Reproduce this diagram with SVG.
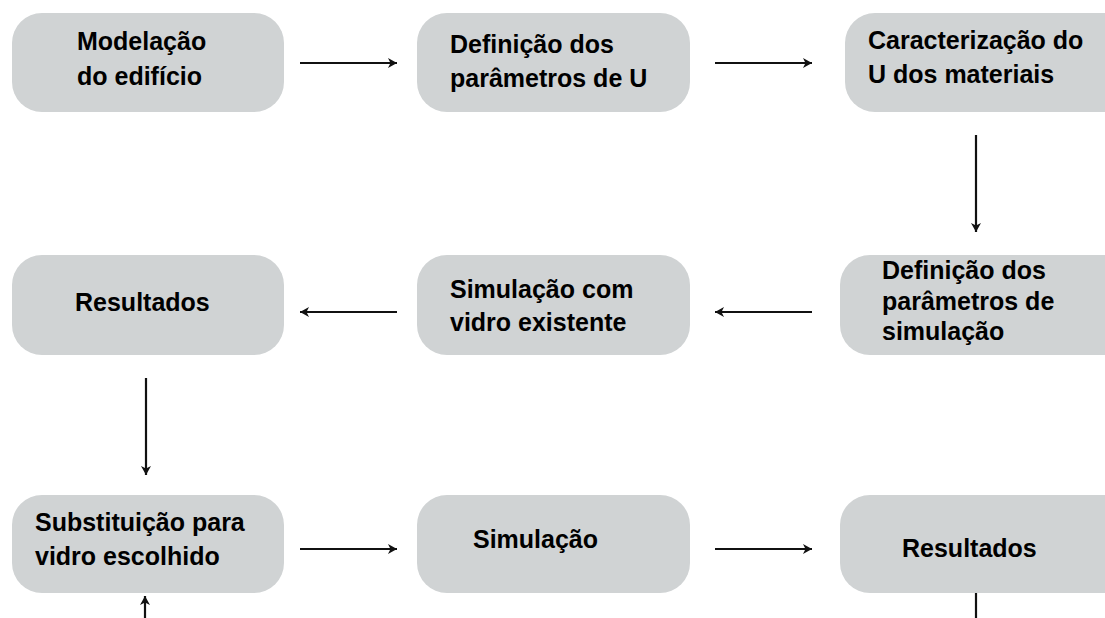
<svg xmlns="http://www.w3.org/2000/svg" width="1105" height="618" viewBox="0 0 1105 618">
<style>
.box{fill:#d0d3d4;}
.t{font-family:"Liberation Sans",Arial,sans-serif;font-weight:bold;font-size:25px;fill:#000;}
.c{stroke:#111;stroke-width:2.2;fill:none;}
</style>
<defs>
<marker id="ah" markerUnits="userSpaceOnUse" markerWidth="14" markerHeight="14" refX="11" refY="7" orient="auto">
<path d="M2,2 L11,7 L2,12 L4.5,7 Z" fill="#111"/>
</marker>
</defs>
<rect width="1105" height="618" fill="#fff"/>
<g id="n1"><rect class="box" x="12" y="13" width="272" height="99" rx="30"/><text class="t" x="77" y="50">Modelação</text><text class="t" x="77" y="85">do edifício</text></g>
<g id="n2"><rect class="box" x="417" y="13" width="273" height="99" rx="30"/><text class="t" x="450" y="53">Definição dos</text><text class="t" x="450" y="87">parâmetros de U</text></g>
<g id="n3"><rect class="box" x="845" y="13" width="300" height="99" rx="30"/><text class="t" x="868" y="49">Caracterização do</text><text class="t" x="868" y="83">U dos materiais</text></g>
<g id="n4"><rect class="box" x="12" y="255" width="272" height="100" rx="30"/><text class="t" x="75" y="311">Resultados</text></g>
<g id="n5"><rect class="box" x="417" y="255" width="273" height="100" rx="30"/><text class="t" x="450" y="298">Simulação com</text><text class="t" x="450" y="331">vidro existente</text></g>
<g id="n6"><rect class="box" x="840" y="255" width="300" height="100" rx="30"/><text class="t" x="882" y="279">Definição dos</text><text class="t" x="882" y="310">parâmetros de</text><text class="t" x="882" y="340">simulação</text></g>
<g id="n7"><rect class="box" x="12" y="495" width="272" height="98" rx="30"/><text class="t" x="35" y="531">Substituição para</text><text class="t" x="35" y="565">vidro escolhido</text></g>
<g id="n8"><rect class="box" x="417" y="495" width="273" height="98" rx="30"/><text class="t" x="473" y="548">Simulação</text></g>
<g id="n9"><rect class="box" x="840" y="495" width="300" height="98" rx="30"/><text class="t" x="902" y="557">Resultados</text></g>
<g id="connectors">
<line class="c" x1="300" y1="63" x2="397" y2="63" marker-end="url(#ah)"/>
<line class="c" x1="715" y1="63" x2="812" y2="63" marker-end="url(#ah)"/>
<line class="c" x1="976" y1="135" x2="976" y2="232" marker-end="url(#ah)"/>
<line class="c" x1="812" y1="312" x2="715" y2="312" marker-end="url(#ah)"/>
<line class="c" x1="397" y1="312" x2="300" y2="312" marker-end="url(#ah)"/>
<line class="c" x1="146" y1="378" x2="146" y2="475" marker-end="url(#ah)"/>
<line class="c" x1="300" y1="549" x2="397" y2="549" marker-end="url(#ah)"/>
<line class="c" x1="715" y1="549" x2="812" y2="549" marker-end="url(#ah)"/>
<line class="c" x1="145" y1="618" x2="145" y2="596" marker-end="url(#ah)"/>
<line class="c" x1="976" y1="593" x2="976" y2="618"/>
</g>
</svg>
